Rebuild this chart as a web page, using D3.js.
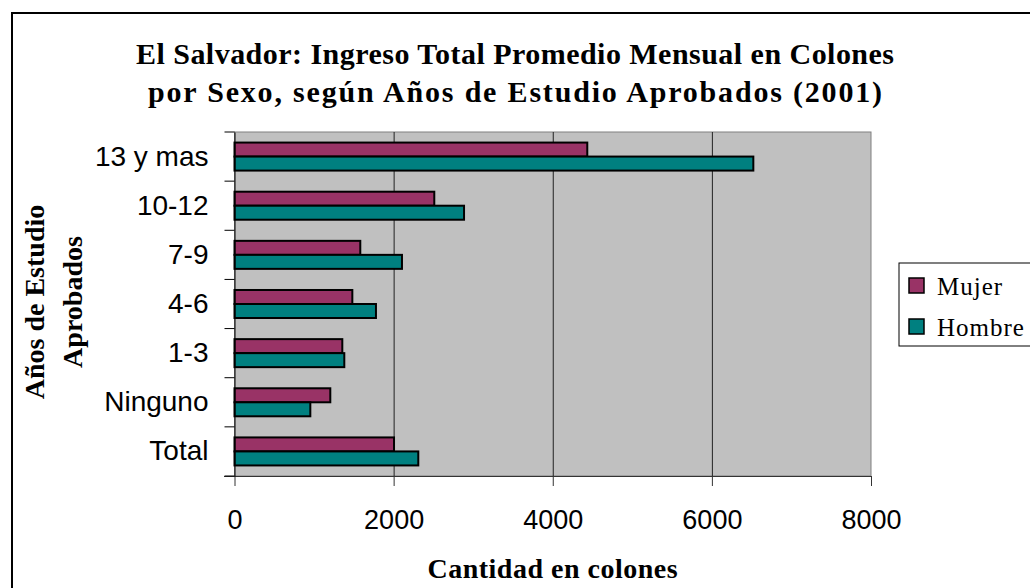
<!DOCTYPE html>
<html>
<head>
<meta charset="utf-8">
<script src="https://cdn.jsdelivr.net/npm/d3@7"></script>
<style>
  body { margin: 0; background: #fff; }
  svg { display: block; }
</style>
</head>
<body>
<svg id="chart" width="1030" height="588"></svg>
<script>
// data
const categories = ['13 y mas', '10-12', '7-9', '4-6', '1-3', 'Ninguno', 'Total'];
const mujer = [4434, 2511, 1581, 1481, 1355, 1204, 2005];
const hombre = [6521, 2885, 2105, 1778, 1380, 953, 2310];
const seriesNames = ['Mujer', 'Hombre'];
const xTickValues = [0, 2000, 4000, 6000, 8000];
const titleLines = ['El Salvador: Ingreso Total Promedio Mensual en Colones',
                    'por Sexo, según Años de Estudio Aprobados (2001)'];

const width = 1030, height = 588;
const margins = { left: 234.5, right: 159, top: 132, bottom: 112 };
const colors = { Mujer: '#993366', Hombre: '#008080' };
const serif = '"Liberation Serif", "Times New Roman", serif';
const sans = '"Liberation Sans", Arial, sans-serif';

const rows = categories.map((c, i) => ({ cat: c, Mujer: mujer[i], Hombre: hombre[i] }));

const vis = d3.select('#chart');

// outer chart frame (runs off the right/bottom edge)
vis.append('rect')
  .attr('x', 12).attr('y', 13)
  .attr('width', width + 20).attr('height', height + 20)
  .attr('fill', '#fff')
  .attr('stroke', '#000')
  .attr('stroke-width', 2);

const xScale = d3.scaleLinear()
  .domain([0, 8000])
  .range([margins.left, width - margins.right]);

const yScale = d3.scaleBand()
  .domain(categories)
  .range([margins.top, height - margins.bottom])
  .paddingInner(0.43)
  .paddingOuter(0.215);

const ySub = d3.scaleBand()
  .domain(seriesNames)
  .range([0, yScale.bandwidth()]);

// plot area
vis.append('rect')
  .attr('x', xScale(0)).attr('y', margins.top)
  .attr('width', xScale(8000) - xScale(0))
  .attr('height', height - margins.bottom - margins.top)
  .attr('fill', '#c0c0c0')
  .attr('stroke', '#808080')
  .attr('stroke-width', 1);

// vertical gridlines
vis.append('g')
  .attr('class', 'grid')
  .attr('transform', 'translate(0,' + (height - margins.bottom) + ')')
  .call(d3.axisBottom(xScale)
    .tickValues(xTickValues.slice(1, -1))
    .tickSize(-(height - margins.bottom - margins.top))
    .tickFormat('')
    .tickSizeOuter(0))
  .call(g => g.select('.domain').remove())
  .call(g => g.selectAll('line').attr('stroke', '#222'));

// bars
const groups = vis.append('g')
  .selectAll('g')
  .data(rows)
  .join('g')
  .attr('transform', d => 'translate(0,' + yScale(d.cat) + ')');

groups.selectAll('rect')
  .data(d => seriesNames.map(s => ({ s, v: d[s] })))
  .join('rect')
  .attr('x', xScale(0))
  .attr('y', d => ySub(d.s))
  .attr('width', d => xScale(d.v) - xScale(0))
  .attr('height', ySub.bandwidth())
  .attr('fill', d => colors[d.s])
  .attr('stroke', '#000')
  .attr('stroke-width', 2);

// x axis
const xAxis = vis.append('g')
  .attr('transform', 'translate(0,' + (height - margins.bottom) + ')')
  .call(d3.axisBottom(xScale)
    .tickValues(xTickValues)
    .tickFormat(d3.format('d'))
    .tickSize(10)
    .tickPadding(24)
    .tickSizeOuter(0));
xAxis.select('.domain').attr('stroke', '#333').attr('d', 'M224,0.5H' + xScale(8000));
xAxis.selectAll('line').attr('stroke', '#333');
xAxis.selectAll('text')
  .style('font-family', sans)
  .style('font-size', '27px')
  .attr('fill', '#000');

// y axis, ticks sit on category boundaries
const yAxis = vis.append('g')
  .attr('transform', 'translate(' + margins.left + ',0)')
  .call(d3.axisLeft(yScale).tickSize(0).tickPadding(26));
yAxis.select('.domain').attr('stroke', '#000');
yAxis.selectAll('text')
  .style('font-family', sans)
  .style('font-size', '28px')
  .attr('fill', '#000');

const boundaries = categories.map(c => yScale(c) - yScale.step() * 0.215)
  .concat([height - margins.bottom]);
vis.append('g')
  .selectAll('line')
  .data(boundaries)
  .join('line')
  .attr('x1', margins.left - 10).attr('x2', margins.left)
  .attr('y1', d => d).attr('y2', d => d)
  .attr('stroke', '#000');

// title, stretched to the width of the original Garamond lines
vis.append('text')
  .attr('text-anchor', 'middle')
  .style('font-family', serif)
  .style('font-weight', 'bold')
  .style('font-size', '30px')
  .selectAll('tspan')
  .data(titleLines)
  .join('tspan')
  .attr('x', 515)
  .attr('y', (d, i) => 64 + i * 38)
  .attr('textLength', (d, i) => i === 0 ? 758 : 734)
  .attr('lengthAdjust', 'spacing')
  .text(d => d);

// x axis title
vis.append('text')
  .attr('x', (xScale(0) + xScale(8000)) / 2)
  .attr('y', 578)
  .attr('text-anchor', 'middle')
  .style('font-family', serif)
  .style('font-weight', 'bold')
  .style('font-size', '28px')
  .style('letter-spacing', '0.5px')
  .text('Cantidad en colones');

// y axis title
const yTitle = vis.append('text')
  .attr('transform', 'rotate(-90)')
  .attr('text-anchor', 'middle')
  .style('font-family', serif)
  .style('font-weight', 'bold')
  .style('font-size', '28px');
yTitle.selectAll('tspan')
  .data(['Años de Estudio', 'Aprobados'])
  .join('tspan')
  .attr('x', -302)
  .attr('y', (d, i) => 44 + i * 38)
  .text(d => d);

// legend
const legend = vis.append('g');
legend.append('rect')
  .attr('x', 899).attr('y', 263)
  .attr('width', 140).attr('height', 83)
  .attr('fill', '#fff')
  .attr('stroke', '#000')
  .attr('stroke-width', 1);
const items = legend.selectAll('g.item')
  .data(seriesNames)
  .join('g')
  .attr('class', 'item')
  .attr('transform', (d, i) => 'translate(0,' + (i * 41) + ')');
items.append('rect')
  .attr('x', 909).attr('y', 278)
  .attr('width', 15).attr('height', 15)
  .attr('fill', d => colors[d])
  .attr('stroke', '#000')
  .attr('stroke-width', 1.5);
items.append('text')
  .attr('x', 937).attr('y', 295)
  .style('font-family', serif)
  .style('font-size', '25px')
  .style('letter-spacing', '1px')
  .text(d => d);
</script>
</body>
</html>
